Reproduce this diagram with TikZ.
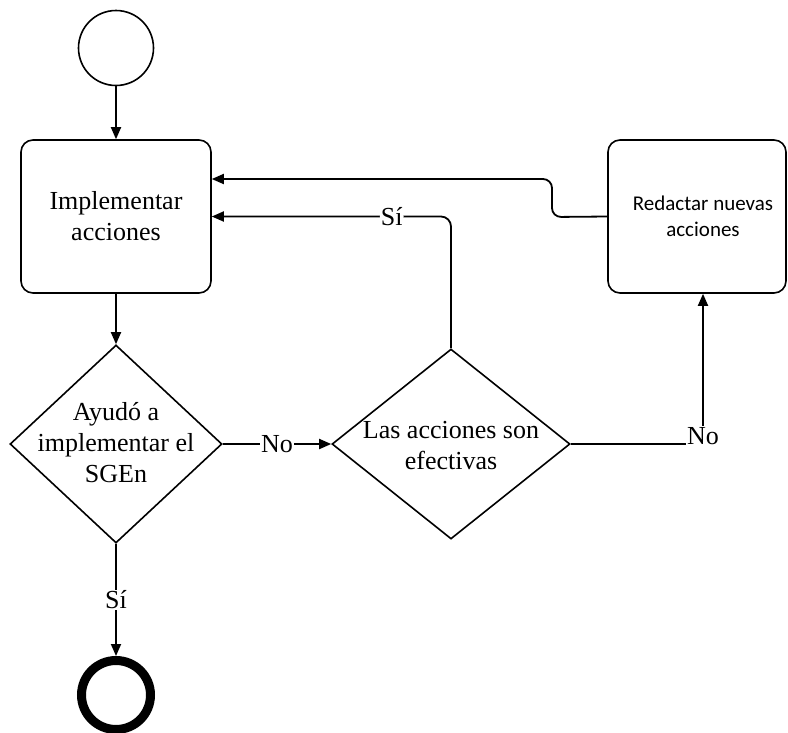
\documentclass[tikz,border=0pt]{standalone}
\usepackage{fontspec}
\setmainfont{Liberation Serif}
\newfontfamily\boxsans{Carlito}
\usetikzlibrary{arrows.meta,shapes.geometric}
\begin{document}
\begin{tikzpicture}[x=1pt,y=-1pt,
  shapeline/.style={draw=black,line width=1.6pt},
  activity/.style={shapeline,rectangle,rounded corners=12pt,inner sep=0pt},
  decision/.style={shapeline,diamond,inner sep=0pt},
  caption/.style={font=\fontsize{26}{31}\selectfont,align=center,inner sep=0pt},
  sanscap/.style={font=\boxsans\fontsize{21}{26}\selectfont,align=center,inner sep=0pt},
  flow/.style={line width=1.8pt,-{Triangle[length=12pt,width=10pt]}},
  link/.style={line width=1.8pt},
  lab/.style={font=\fontsize{26}{31}\selectfont,fill=white,inner sep=1pt}]
\useasboundingbox (0,0) rectangle (788,732);

% start and end events
\node[shapeline,circle,minimum size=75pt,inner sep=0pt] (start) at (116,48) {};
\node[draw=black,circle,line width=9pt,minimum size=69pt,inner sep=0pt] (stop) at (116,695) {};

% activities
\node[activity,minimum width=190pt,minimum height=153pt] (impl) at (116,216.5) {};
\node[caption] at (impl) {Implementar\\acciones};
\node[activity,minimum width=178pt,minimum height=153pt] (redac) at (697,216.5) {};
\node[sanscap] at (703,216.5) {Redactar nuevas\\acciones};

% decisions
\node[decision,minimum width=212pt,minimum height=198pt] (ayudo) at (116,444) {};
\node[caption] at (116,443) {Ayudó a\\implementar el\\SGEn};
\node[decision,minimum width=238pt,minimum height=190pt] (efect) at (451,444) {};
\node[caption] at (451,446) {Las acciones son\\efectivas};

% connection points
\coordinate (implup) at (impl.east |- 0,179);
\coordinate (redin) at ([xshift=6pt]redac.south);
\coordinate (bend) at (552,217);

% connectors
\draw[flow] (start) -- (impl);
\draw[flow] (impl) -- (ayudo);
\draw[flow] (ayudo.east) -- node[lab]{No} (efect.west);
\draw[flow] (ayudo.south) -- node[lab]{Sí} (stop.north);
\draw[flow,rounded corners=10pt] (efect.north) |- node[lab,pos=0.624]{Sí} (impl.east);
\draw[flow] (efect.east) -| node[lab,pos=0.5,yshift=8pt]{No} (redin);
\draw[flow,rounded corners=9pt] (redac.west) -- (bend) |- (implup);
\end{tikzpicture}
\end{document}
